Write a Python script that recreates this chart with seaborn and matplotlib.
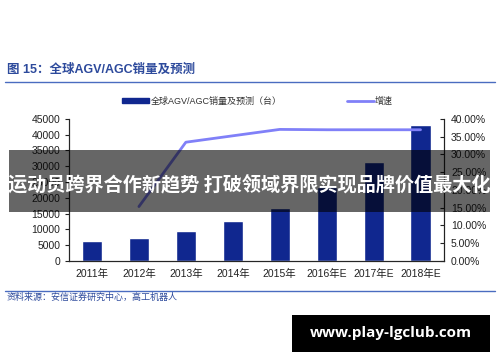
import numpy as np
import pandas as pd
import seaborn as sns
import matplotlib.pyplot as plt
from matplotlib.lines import Line2D
from matplotlib.patches import Rectangle
from matplotlib.ticker import FuncFormatter

# data
years = ['2011年', '2012年', '2013年', '2014年', '2015年', '2016年E', '2017年E', '2018年E']
sales = [6200, 7200, 9400, 12500, 16800, 23300, 31300, 43000]
growth = [np.nan, 0.153, 0.334, 0.352, 0.370, 0.369, 0.369, 0.369]

bar_label = '全球AGV/AGC销量及预测（台）'
line_label = '增速'
title = '图 15：全球AGV/AGC销量及预测'
source = '资料来源：安信证券研究中心，高工机器人'
banner = '运动员跨界合作新趋势 打破领域界限实现品牌价值最大化'
watermark = 'www.play-lgclub.com'

df = pd.DataFrame({'year': years, 'sales': sales, 'growth': growth})
df['pos'] = np.arange(len(df))

sns.set_style('white')
plt.rcParams['font.family'] = ['Liberation Sans', 'Noto Sans CJK SC', 'DejaVu Sans']

bar_col = '#10278f'
line_col = '#8080f8'
blue = '#2d4a9c'

fig = plt.figure(figsize=(5, 3.62), dpi=100)
ax = fig.add_axes([0.137, 0.279, 0.751, 0.393])

sns.barplot(data=df, x='year', y='sales', color=bar_col, width=0.43,
            saturation=1, ax=ax, zorder=2)
ax.set_xlim(-0.5, 7.5)
ax.set_ylim(0, 45000)
ax.set_yticks(np.arange(0, 45001, 5000))
ax.set_xlabel('')
ax.set_ylabel('')
ax.set_xticks(np.arange(-0.5, 8, 1), minor=True)
ax.tick_params(axis='x', which='major', length=0, labelsize=7.5, pad=6, colors='#222222')
ax.tick_params(axis='x', which='minor', length=3, direction='out', width=0.8, color='#222222')
ax.tick_params(axis='y', length=3, direction='out', width=0.8, labelsize=7.5,
               colors='#222222', left=True, pad=3)
ax.spines['top'].set_visible(False)
for s in ['left', 'bottom', 'right']:
    ax.spines[s].set_color('#222222')
    ax.spines[s].set_linewidth(0.8)

ax2 = ax.twinx()
sns.lineplot(data=df, x='pos', y='growth', color=line_col, lw=2, ax=ax2)
ax2.set_ylim(0, 0.40)
ax2.set_yticks(np.arange(0, 0.401, 0.05))
ax2.yaxis.set_major_formatter(FuncFormatter(lambda v, p: f'{v*100:.2f}%'))
ax2.set_ylabel('')
ax2.tick_params(axis='y', length=3, direction='in', width=0.8, labelsize=7.5,
                colors='#222222', right=True, pad=5)
ax2.spines['top'].set_visible(False)
ax2.spines['right'].set_color('#222222')
ax2.spines['right'].set_linewidth(0.8)
ax2.set_xlim(-0.5, 7.5)

handles = [Rectangle((0, 0), 1, 1, color=bar_col),
           Line2D([0], [0], color=line_col, lw=2)]
fig.legend(handles, [bar_label, line_label], loc='center', ncol=2,
           bbox_to_anchor=(0.515, 0.72), frameon=False, fontsize=6.5,
           handlelength=3.0, handleheight=0.5, columnspacing=7.2,
           handletextpad=0.15, labelcolor='#333333')

fig.text(0.014, 0.806, title, fontsize=9, fontweight='bold', color=blue, va='center')
fig.add_artist(Line2D([0.01, 0.99], [0.773, 0.773], color='#4a6cc0', lw=1))
fig.add_artist(Line2D([0.01, 0.99], [0.196, 0.196], color='#4a6cc0', lw=1))
fig.text(0.014, 0.178, source, fontsize=6.5, style='italic', color=blue, va='center')

fig.add_artist(Rectangle((0.018, 0.414), 0.962, 0.171, transform=fig.transFigure,
                         color='black', alpha=0.6, lw=0, zorder=10))
fig.text(0.499, 0.49, banner, fontsize=13.8, fontweight='bold', color='white',
         ha='center', va='center', zorder=11,
         family=['Noto Sans CJK SC', 'DejaVu Sans'])

fig.add_artist(Rectangle((0.584, 0.028), 0.396, 0.102, transform=fig.transFigure,
                         color='black', lw=0, zorder=10))
fig.text(0.782, 0.079, watermark, fontsize=11, fontweight='bold', color='white',
         ha='center', va='center', zorder=11, family=['Open Sans', 'DejaVu Sans'])

fig.savefig('out.png', dpi=100, facecolor='white')
